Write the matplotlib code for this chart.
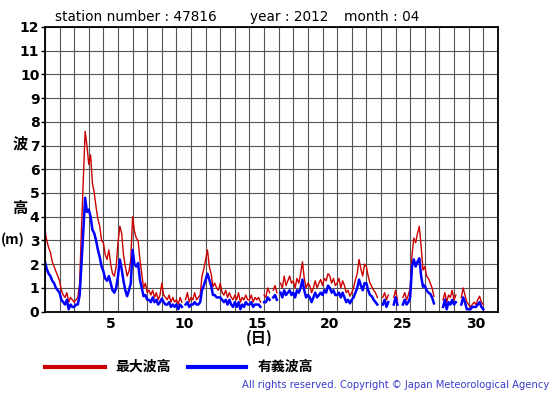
import numpy as np
import matplotlib
matplotlib.use("Agg")
import matplotlib.pyplot as plt

nan = np.nan

# 3-hourly values, one row per day (April 1 .. April 30), last value = end of month
max_wave = [
    3.4, 3.0, 2.7, 2.5, 2.1, 1.9, 1.7, 1.5,
    1.3, 0.9, 0.7, 0.6, 0.8, 0.4, 0.6, 0.5,
    0.4, 0.5, 0.6, 1.2, 3.5, 5.6, 7.6, 7.0,
    6.2, 6.6, 5.4, 5.0, 4.4, 3.9, 3.6, 3.0,
    2.9, 2.4, 2.2, 2.6, 2.0, 1.6, 1.5, 1.9,
    2.9, 3.6, 3.3, 2.4, 1.9, 1.5, 1.7, 2.2,
    4.0, 3.4, 3.1, 3.0, 2.2, 1.6, 1.0, 1.2,
    0.8, 0.9, 0.7, 0.9, 0.6, 0.8, 0.5, 0.7,
    1.2, 0.7, 0.6, 0.5, 0.7, 0.4, 0.6, 0.4,
    0.5, 0.3, 0.6, 0.4, nan, 0.5, 0.8, 0.4,
    0.6, 0.5, 0.8, 0.5, 0.6, 0.7, 1.5, 1.8,
    2.2, 2.6, 1.9, 1.6, 1.05, 1.2, 1.0, 0.9,
    1.2, 0.8, 0.7, 0.9, 0.6, 0.8, 0.6, 0.5,
    0.7, 0.5, 0.8, 0.4, 0.6, 0.5, 0.7, 0.5,
    0.5, 0.7, 0.4, 0.6, 0.5, 0.6, 0.4, nan,
    0.7, 0.6, 1.0, 0.8, nan, 0.9, 1.1, 0.8,
    nan, 1.2, 1.0, 1.5, 1.1, 1.3, 1.5, 1.2,
    1.3, 1.0, 1.4, 1.2, 1.6, 2.1, 1.4, 1.0,
    1.2, 1.1, 0.8, 1.0, 1.3, 1.0, 1.2, 1.35,
    1.1, 1.4, 1.3, 1.6, 1.5, 1.2, 1.4, 1.1,
    1.2, 1.4, 1.0, 1.3, 1.1, 0.8, 0.9, 0.65,
    0.8, 1.0, 1.35, 1.6, 2.2, 1.8, 1.5, 2.0,
    1.9, 1.5, 1.2, 1.05, 0.9, 0.8, 0.6, nan,
    nan, 0.6, 0.8, 0.5, 0.7, nan, nan, 0.6,
    0.9, 0.5, nan, nan, 0.6, 0.8, 0.5, 0.7,
    1.0, 2.4, 3.1, 2.9, 3.3, 3.6, 2.75, 1.75,
    1.9, 1.5, 1.4, 1.2, 1.0, 0.65, nan, nan,
    nan, nan, 0.5, 0.8, 0.4, 0.7, 0.6, 0.9,
    0.5, 0.7, nan, nan, 0.6, 1.0, 0.7, 0.4,
    0.3, 0.2, 0.3, 0.4, 0.3, 0.5, 0.65, 0.4,
    0.3,
]

sig_wave = [
    2.1, 1.8, 1.6, 1.5, 1.3, 1.2, 1.0, 0.9,
    0.8, 0.5, 0.4, 0.3, 0.5, 0.1, 0.3, 0.2,
    0.2, 0.3, 0.3, 0.7, 2.0, 3.4, 4.8, 4.2,
    4.3, 4.0, 3.45, 3.3, 3.0, 2.6, 2.3, 1.9,
    1.7, 1.4, 1.3, 1.5, 1.2, 0.9, 0.8, 1.0,
    1.5, 2.2, 1.8, 1.3, 0.9, 0.65, 0.9, 1.2,
    2.6, 2.0, 1.9, 2.05, 1.35, 1.0, 0.65, 0.7,
    0.5, 0.5, 0.4, 0.6, 0.4, 0.5, 0.3, 0.4,
    0.55, 0.4, 0.3, 0.3, 0.4, 0.2, 0.3, 0.2,
    0.3, 0.1, 0.3, 0.2, nan, 0.3, 0.4, 0.2,
    0.3, 0.3, 0.4, 0.3, 0.3, 0.4, 0.9, 1.1,
    1.35, 1.6, 1.35, 1.1, 0.7, 0.7, 0.6, 0.6,
    0.6, 0.5, 0.4, 0.5, 0.3, 0.5, 0.3, 0.2,
    0.4, 0.2, 0.4, 0.1, 0.3, 0.2, 0.4, 0.3,
    0.3, 0.4, 0.2, 0.3, 0.3, 0.3, 0.2, nan,
    0.4, 0.4, 0.6, 0.5, nan, 0.6, 0.7, 0.5,
    nan, 0.8, 0.6, 0.9, 0.7, 0.8, 0.9, 0.7,
    0.8, 0.6, 0.9, 0.8, 1.0, 1.35, 0.9, 0.6,
    0.7, 0.6, 0.4, 0.6, 0.8, 0.6, 0.7, 0.8,
    0.7, 0.9, 0.8, 1.1, 1.0, 0.8, 0.9, 0.7,
    0.7, 0.8, 0.6, 0.8, 0.6, 0.4, 0.5, 0.35,
    0.5, 0.6, 0.8, 1.0, 1.35, 1.1, 0.9, 1.2,
    1.2, 0.9, 0.7, 0.65, 0.5, 0.4, 0.3, nan,
    nan, 0.3, 0.5, 0.2, 0.4, nan, nan, 0.3,
    0.6, 0.3, nan, nan, 0.3, 0.5, 0.3, 0.4,
    0.6, 1.9, 2.2, 1.9, 2.1, 2.25, 1.5, 1.05,
    1.1, 0.9, 0.8, 0.75, 0.6, 0.35, nan, nan,
    nan, nan, 0.2, 0.5, 0.1, 0.4, 0.3, 0.5,
    0.3, 0.4, nan, nan, 0.3, 0.6, 0.4, 0.1,
    0.1, 0.1, 0.2, 0.2, 0.2, 0.3, 0.4, 0.2,
    0.1,
]

day_labels = [5, 10, 15, 20, 25, 30]
station = "47816"
year = "2012"
month = "04"

cjk = ['Noto Sans CJK JP', 'DejaVu Sans']

t = np.arange(len(max_wave)) / 8.0   # days since April 1 00:00

fig = plt.figure(figsize=(5.55, 3.95), dpi=100)
ax = fig.add_axes([0.081, 0.211, 0.816, 0.721])

ax.plot(t, max_wave, color='#cc0000', lw=1.0, zorder=3)
ax.plot(t, sig_wave, color='#0000ff', lw=1.8, zorder=4)

ax.set_xlim(0, 31)
ax.set_ylim(0, 12)
ax.set_xticks(range(32), minor=True)
ax.set_xticks([d - 0.5 for d in day_labels])
ax.set_xticklabels([str(d) for d in day_labels], fontsize=10, fontweight='bold')
ax.set_yticks(range(13))
ax.set_yticklabels([str(v) for v in range(13)], fontsize=10, fontweight='bold')
ax.tick_params(axis='x', which='both', length=0, pad=4)
ax.tick_params(axis='y', length=3, width=1, pad=1)
ax.grid(True, which='minor', axis='x', color='#555555', lw=0.8)
ax.grid(True, which='major', axis='y', color='#555555', lw=0.8)
for s in ax.spines.values():
    s.set_linewidth(1.3)
    s.set_zorder(5)

# header
fig.text(55/555, 1 - 17/395, "station number : " + station, fontsize=9.8, va='center')
fig.text(250/555, 1 - 17/395, "year : " + year, fontsize=9.8, va='center')
fig.text(344/555, 1 - 17/395, "month : " + month, fontsize=9.8, va='center')

# y label
fig.text(20/555, 1 - 143/395, "波", family=cjk, fontsize=11, fontweight='bold', ha='center', va='center')
fig.text(20/555, 1 - 208/395, "高", family=cjk, fontsize=11, fontweight='bold', ha='center', va='center')
fig.text(13/555, 1 - 240/395, "(m)", family=cjk, fontsize=10, fontweight='bold', ha='center', va='center')

# x label
fig.text(259/555, 1 - 338/395, "(日)", family=cjk, fontsize=11, fontweight='bold', ha='center', va='center')

# legend
fig.add_artist(plt.Line2D([45/555, 105/555], [1 - 367/395] * 2, color='#cc0000', lw=3))
fig.text(115/555, 1 - 367/395, "最大波高", family=cjk, fontsize=10, fontweight='bold', va='center')
fig.add_artist(plt.Line2D([188/555, 246/555], [1 - 367/395] * 2, color='#0000ff', lw=3))
fig.text(258/555, 1 - 367/395, "有義波高", family=cjk, fontsize=10, fontweight='bold', va='center')

fig.text(549/555, 1 - 385/395, "All rights reserved. Copyright \u00a9 Japan Meteorological Agency",
         fontsize=7.2, color='#3b3bd0', ha='right', va='center')

fig.savefig("out.png", dpi=100)
